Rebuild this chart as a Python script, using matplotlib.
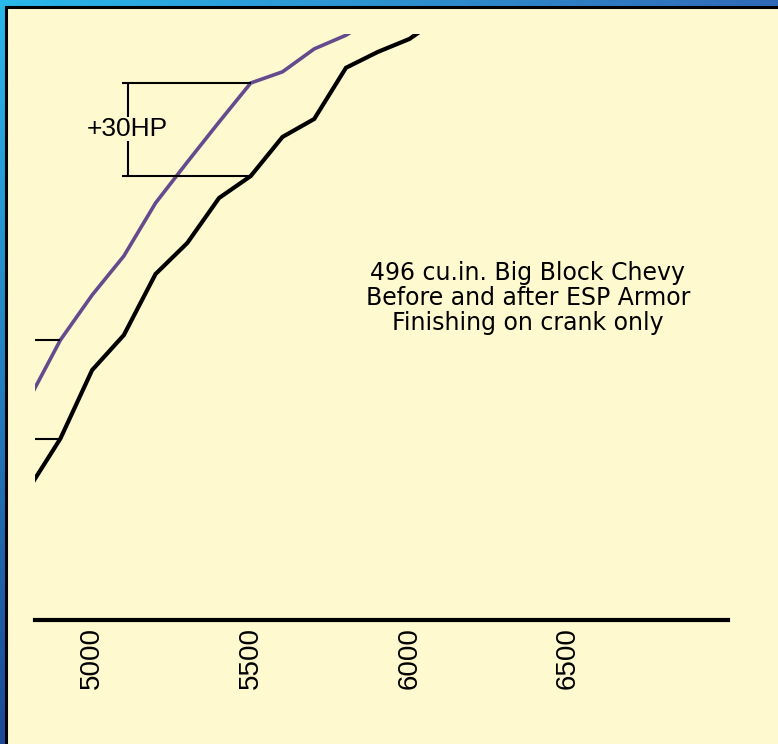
import numpy as np
import matplotlib
matplotlib.use('Agg')
from matplotlib import pyplot as plt
from matplotlib.patches import Rectangle

# dyno curves, HP vs RPM
rpm = [4800, 4900, 5000, 5100, 5200, 5300, 5400, 5500, 5600, 5700, 5800, 5900, 6000, 6100]
hp_before = [542.3, 558.5, 580.6, 591.9, 611.6, 621.6, 636.1, 643.2, 655.8, 661.6, 678.1, 683.2, 687.4, 694.5]
hp_after = [571.0, 590.3, 604.8, 617.4, 634.5, 647.7, 660.6, 673.2, 676.8, 684.2, 688.6, 695.0]
rpm_ticks = [5000, 5500, 6000, 6500]
tick_labels = ['5000', '5500', '6000', '6500']
gain_label = '+30HP'
note_lines = ['496 cu.in. Big Block Chevy', 'Before and after ESP Armor', 'Finishing on crank only']

W, H = 778, 744
cream = '#FEF9CE'
purple = '#664A8E'

fig = plt.figure(figsize=(W / 100, H / 100), dpi=100)

# blue gradient frame behind everything
bg = fig.add_axes([0, 0, 1, 1], zorder=0)
bg.set_axis_off()
tl = np.array([0x2A, 0xB8, 0xEA]) / 255
tr = np.array([0x30, 0x6A, 0xB6]) / 255
bl = np.array([0x1C, 0x48, 0x96]) / 255
br = np.array([0x20, 0x40, 0x90]) / 255
u = np.linspace(0, 1, 200)[None, :, None]
v = np.linspace(0, 1, 200)[:, None, None]
grad = (1 - u) * (1 - v) * tl + u * (1 - v) * tr + (1 - u) * v * bl + u * v * br
bg.imshow(grad, aspect='auto', extent=[0, 1, 0, 1])
bg.set_xlim(0, 1)
bg.set_ylim(0, 1)

# cream panel with black edge on left / top
bg.add_patch(Rectangle((5.5 / W, -0.05), 1.1, 1.05 - 6.5 / H, transform=fig.transFigure,
                       facecolor=cream, edgecolor='black', linewidth=2.2, zorder=5))

ax = fig.add_axes([35 / W, (H - 620) / H, (728 - 35) / W, (620 - 34) / H], zorder=2)
ax.patch.set_alpha(0)
ax.set_xlim(4820, 7004)
ax.set_ylim(500, 689)

ax.plot(rpm[:len(hp_after)], hp_after, color=purple, lw=2.6, solid_joinstyle='miter')
ax.plot(rpm, hp_before, color='black', lw=3.0, solid_joinstyle='miter')

# markers at 4900 coming in from the left edge
ax.hlines([hp_after[1], hp_before[1]], 4820, rpm[1], color='black', lw=1.5)

# +30HP bracket at 5500
i = rpm.index(5500)
ax.hlines([hp_after[i], hp_before[i]], 5095, 5500, color='black', lw=1.5)
ax.vlines(5113, hp_before[i], hp_after[i], color='black', lw=1.5)
ax.text(5110, (hp_after[i] + hp_before[i]) / 2, gain_label, ha='center', va='center',
        fontsize=19, family='Liberation Sans',
        bbox=dict(boxstyle='square,pad=0.0', facecolor=cream, edgecolor='none'))

for sp in ['left', 'right', 'top']:
    ax.spines[sp].set_visible(False)
ax.spines['bottom'].set_linewidth(3.0)
ax.set_yticks([])
ax.set_xticks(rpm_ticks)
ax.set_xticklabels(tick_labels, rotation=90, fontsize=20, family='Liberation Sans')
ax.tick_params(axis='x', length=0, pad=5)

for k, line in enumerate(note_lines):
    fig.text(528 / W, 1 - (273 + 25 * k) / H, line, ha='center', va='center', fontsize=17, zorder=3)

fig.savefig('out.png', dpi=100)
